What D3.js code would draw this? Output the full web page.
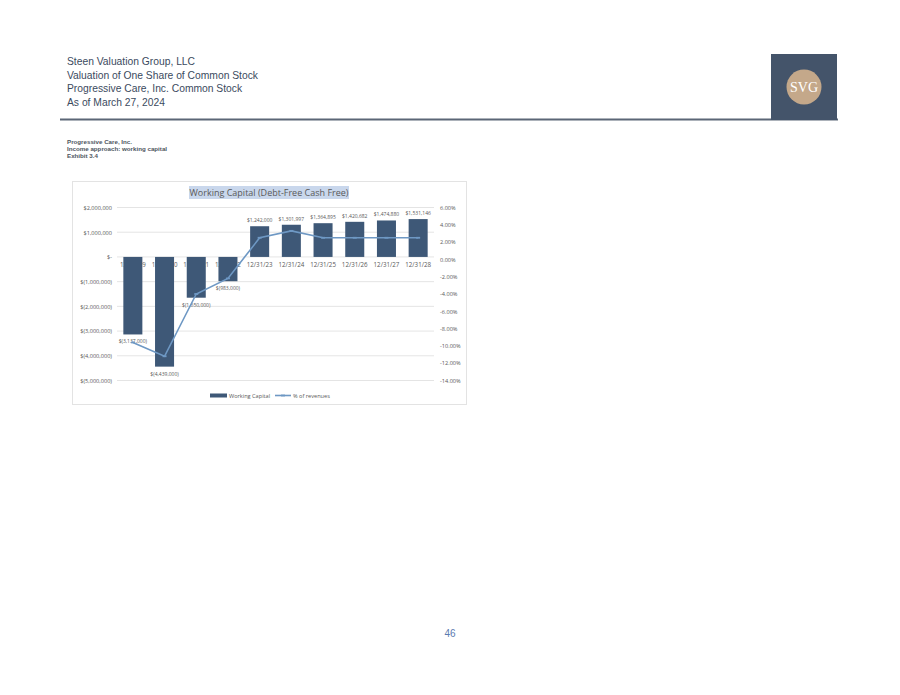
<!DOCTYPE html>
<html>
<head>
<meta charset="utf-8">
<script src="https://cdn.jsdelivr.net/npm/d3@7"></script>
<style>
  body { margin: 0; background: #fff; }
  svg text { font-family: "Liberation Sans", Arial, sans-serif; }
  .chart-text { font-family: "Open Sans", "Liberation Sans", sans-serif; fill: #595959; }
</style>
</head>
<body>
<div id="page"></div>
<script>
// chart data
const categories = ['12/31/19', '12/31/20', '12/31/21', '12/31/22', '12/31/23',
  '12/31/24', '12/31/25', '12/31/26', '12/31/27', '12/31/28'];
const workingCapital = [-3137000, -4439000, -1650000, -983000, 1242000,
  1301997, 1364895, 1420682, 1474880, 1531146];
const pctRevenues = [-9.6, -11.2, -4.0, -2.2, 2.5, 3.3, 2.5, 2.5, 2.5, 2.5];
const leftTicks = [2000000, 1000000, 0, -1000000, -2000000, -3000000, -4000000, -5000000];
const rightTicks = [6, 4, 2, 0, -2, -4, -6, -8, -10, -12, -14];
const headerLines = ['Steen Valuation Group, LLC', 'Valuation of One Share of Common Stock',
  'Progressive Care, Inc. Common Stock', 'As of March 27, 2024'];
const subLines = ['Progressive Care, Inc.', 'Income approach: working capital', 'Exhibit 3.4'];

const width = 900, height = 695;
const barColor = '#3e5877';
const lineColor = '#6e98c4';

const svg = d3.select('#page').append('svg')
  .attr('width', width)
  .attr('height', height);

// page header
svg.selectAll('.hdr')
  .data(headerLines)
  .enter()
  .append('text')
  .attr('x', 67)
  .attr('y', (d, i) => 65 + i * 13.5)
  .attr('font-size', 10.3)
  .attr('fill', '#3b4a5e')
  .text(d => d);

svg.append('rect')
  .attr('x', 60).attr('y', 118.5)
  .attr('width', 778).attr('height', 2)
  .attr('fill', '#5b6676');

// logo
svg.append('rect')
  .attr('x', 771).attr('y', 54)
  .attr('width', 66).attr('height', 66)
  .attr('fill', '#44546a');
svg.append('circle')
  .attr('cx', 804).attr('cy', 87).attr('r', 17.5)
  .attr('fill', '#c4a88a');
svg.append('text')
  .attr('x', 804).attr('y', 92)
  .attr('text-anchor', 'middle')
  .attr('font-size', 14)
  .attr('fill', '#fff')
  .style('font-family', '"Liberation Serif", "DejaVu Serif", serif')
  .text('SVG');

svg.selectAll('.sub')
  .data(subLines)
  .enter()
  .append('text')
  .attr('x', 67)
  .attr('y', (d, i) => 144 + i * 7.2)
  .attr('font-size', 6.2)
  .attr('font-weight', 'bold')
  .attr('fill', '#4d5560')
  .text(d => d);

// chart box
svg.append('rect')
  .attr('x', 72.5).attr('y', 181.5)
  .attr('width', 394).attr('height', 223)
  .attr('fill', '#fff')
  .attr('stroke', '#e3e3e3');

// title with highlight
svg.append('rect')
  .attr('x', 189).attr('y', 186)
  .attr('width', 160).attr('height', 13)
  .attr('fill', '#c9d7ec');
svg.append('text')
  .attr('class', 'chart-text')
  .attr('x', 269).attr('y', 196)
  .attr('text-anchor', 'middle')
  .attr('font-size', 9)
  .text('Working Capital (Debt-Free Cash Free)');

const x = d3.scaleBand()
  .domain(categories)
  .range([117, 434])
  .paddingInner(0.4)
  .paddingOuter(0.2);

const y = d3.scaleLinear()
  .domain([-5000000, 2000000])
  .range([380.5, 207.5]);

const y2 = d3.scaleLinear()
  .domain([-14, 6])
  .range([380.5, 207.5]);

const money = v => {
  if (v === 0) return '$-';
  const s = d3.format(',')(Math.abs(v));
  return v < 0 ? `$(${s})` : `$${s}`;
};

// gridlines
svg.append('g')
  .selectAll('line')
  .data(leftTicks)
  .enter()
  .append('line')
  .attr('x1', 117).attr('x2', 434)
  .attr('y1', d => y(d)).attr('y2', d => y(d))
  .attr('stroke', '#d9d9d9')
  .attr('stroke-width', 0.7);

// left axis
const yAxis = d3.axisLeft(y).tickValues(leftTicks).tickFormat(money).tickSize(0).tickPadding(0);
const gl = svg.append('g')
  .attr('transform', 'translate(112,0)')
  .call(yAxis);
gl.select('.domain').remove();
gl.selectAll('text')
  .attr('class', 'chart-text')
  .attr('font-size', 5.6);

// right axis
const y2Axis = d3.axisRight(y2).tickValues(rightTicks).tickFormat(d => d.toFixed(2) + '%').tickSize(0).tickPadding(0);
const gr = svg.append('g')
  .attr('transform', 'translate(440,0)')
  .call(y2Axis);
gr.select('.domain').remove();
gr.selectAll('text')
  .attr('class', 'chart-text')
  .attr('font-size', 5.6);

// category labels sit on the zero line, behind the bars
svg.selectAll('.cat')
  .data(categories)
  .enter()
  .append('text')
  .attr('class', 'chart-text')
  .attr('x', d => x(d) + x.bandwidth() / 2)
  .attr('y', y(0) + 10)
  .attr('text-anchor', 'middle')
  .attr('font-size', 6.2)
  .text(d => d);

// bars
svg.selectAll('.bar')
  .data(workingCapital)
  .enter()
  .append('rect')
  .attr('class', 'bar')
  .attr('x', (d, i) => x(categories[i]))
  .attr('width', x.bandwidth())
  .attr('y', d => y(Math.max(0, d)))
  .attr('height', d => Math.abs(y(d) - y(0)))
  .attr('fill', barColor);

// bar labels
svg.selectAll('.bar-label')
  .data(workingCapital)
  .enter()
  .append('text')
  .attr('class', 'chart-text')
  .attr('x', (d, i) => x(categories[i]) + x.bandwidth() / 2)
  .attr('y', d => d < 0 ? y(d) + 9 : y(d) - 4)
  .attr('text-anchor', 'middle')
  .attr('font-size', 5)
  .text(money);

// % of revenues line
const line = d3.line()
  .x((d, i) => x(categories[i]) + x.bandwidth() / 2)
  .y(d => y2(d));

svg.append('path')
  .datum(pctRevenues)
  .attr('d', line)
  .attr('fill', 'none')
  .attr('stroke', lineColor)
  .attr('stroke-width', 1.6);

svg.selectAll('.pt')
  .data(pctRevenues)
  .enter()
  .append('rect')
  .attr('x', (d, i) => x(categories[i]) + x.bandwidth() / 2 - 2)
  .attr('y', d => y2(d) - 0.9)
  .attr('width', 4).attr('height', 1.8)
  .attr('fill', lineColor);

// legend
svg.append('rect')
  .attr('x', 210).attr('y', 393.5)
  .attr('width', 17).attr('height', 4)
  .attr('fill', barColor);
svg.append('text')
  .attr('class', 'chart-text')
  .attr('x', 229).attr('y', 397.5)
  .attr('font-size', 5.6)
  .text('Working Capital');
svg.append('line')
  .attr('x1', 275).attr('x2', 291)
  .attr('y1', 395.5).attr('y2', 395.5)
  .attr('stroke', lineColor)
  .attr('stroke-width', 1.6);
svg.append('rect')
  .attr('x', 281).attr('y', 394.6)
  .attr('width', 4).attr('height', 1.8)
  .attr('fill', lineColor);
svg.append('text')
  .attr('class', 'chart-text')
  .attr('x', 293).attr('y', 397.5)
  .attr('font-size', 5.6)
  .text('% of revenues');

// page number
svg.append('text')
  .attr('x', 450).attr('y', 637)
  .attr('text-anchor', 'middle')
  .attr('font-size', 10)
  .attr('fill', '#5b7bb0')
  .text('46');
</script>
</body>
</html>
